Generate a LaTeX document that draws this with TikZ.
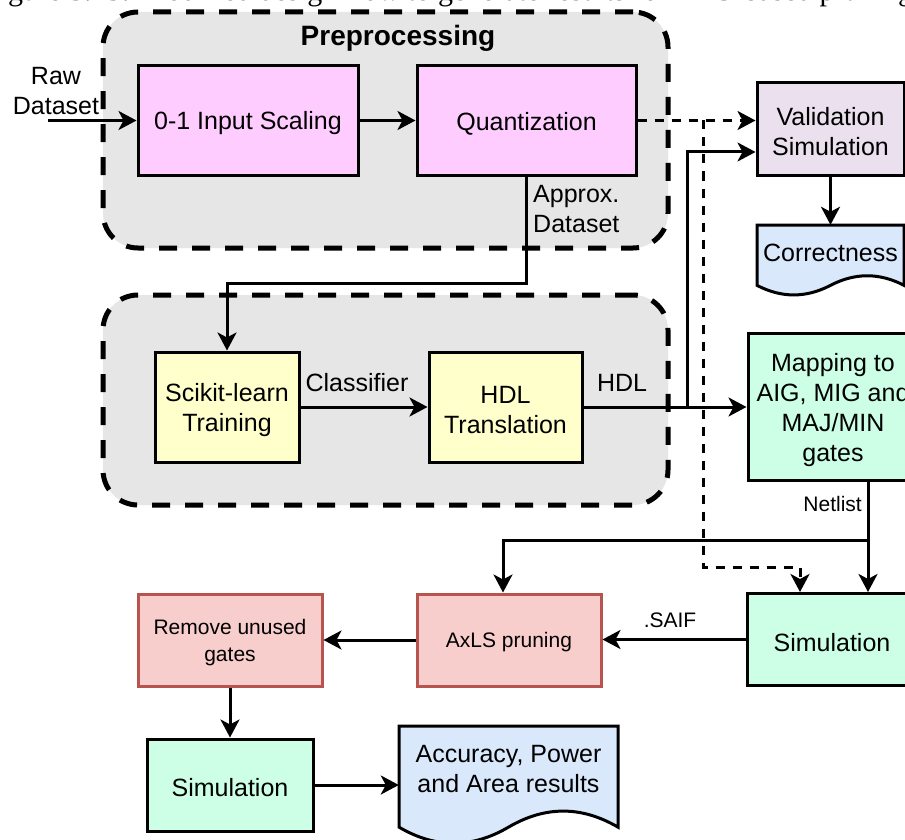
\documentclass[tikz,border=0pt]{standalone}
\usepackage{fontspec}
\setmainfont{Liberation Sans}
\newfontfamily\capfont{Liberation Serif}
\usetikzlibrary{arrows.meta,calc}

\definecolor{pinkfill}{HTML}{FFCCFF}
\definecolor{yelfill}{HTML}{FFFFCC}
\definecolor{mintfill}{HTML}{CCFFE6}
\definecolor{lilacfill}{HTML}{EBE0EE}
\definecolor{bluefill}{HTML}{DAE8FC}
\definecolor{redfill}{HTML}{F8CECC}
\definecolor{redline}{HTML}{B85450}
\definecolor{grpfill}{HTML}{E6E6E6}

% document shape (flat top, wavy bottom): style, x0, y0, width, height
\newcommand\DocShape[5]{%
  \path[#1] (#2,#3) -- ({#2+#4},#3) -- ({#2+#4},{#3+0.85*#5})
    .. controls ({#2+0.8333*#4},{#3+0.67*#5}) and ({#2+0.6667*#4},{#3+0.67*#5}) .. ({#2+0.5*#4},{#3+0.85*#5})
    .. controls ({#2+0.3333*#4},{#3+1.03*#5}) and ({#2+0.1667*#4},{#3+1.03*#5}) .. (#2,{#3+0.85*#5}) -- cycle;}

\tikzset{
  txt/.style={font=\fontsize{25}{30}\selectfont},
  smalltxt/.style={font=\fontsize{21}{27}\selectfont},
  lbl/.style={inner sep=0pt, align=center, txt},
  slbl/.style={inner sep=0pt, align=center, smalltxt},
  % box text sits a little below the geometric centre
  boxtext/.style={label={[lbl, yshift=-3pt]center:#1}},
  sboxtext/.style={label={[slbl, yshift=-2.5pt]center:#1}},
  box/.style={draw, line width=3pt, inner sep=0pt},
  redbox/.style={box, draw=redline, fill=redfill},
  docsh/.style={draw, line width=3pt, fill=bluefill},
  grp/.style={draw, line width=5pt, dash pattern=on 18pt off 15pt, fill=grpfill, rounded corners=35pt},
  arr/.style={line width=3pt, -{Stealth[length=18pt,width=19pt,inset=5pt]}},
  dashconn/.style={dash pattern=on 9pt off 8pt}
}

\begin{document}
\begin{tikzpicture}[x=1pt,y=-1pt]
\useasboundingbox (0,0) rectangle (905,840);
\clip (0,0) rectangle (905,840);
\fill[white] (0,0) rectangle (905,840);

% caption line of the page above
\node[anchor=base west, inner sep=0pt, font=\capfont\fontsize{30}{36}\selectfont] (cap) at (-17,1)
  {Figure 3.13: Modified design flow to generate results for MIG-based pruning};

% group backgrounds
\node[grp, minimum width=565pt, minimum height=236pt] (pregrp) at (385.5,130) {};
\node[grp, minimum width=565pt, minimum height=210pt] (traingrp) at (385.5,400) {};
\node[inner sep=0pt, font=\bfseries\fontsize{28}{34}\selectfont] (ptitle) at (398,38) {Preprocessing};

% process boxes
\node[box, fill=pinkfill, minimum width=220pt, minimum height=110pt, boxtext={0-1 Input Scaling}] (scal) at (248,120.5) {};
\node[box, fill=pinkfill, minimum width=219pt, minimum height=109pt, boxtext={Quantization}] (quant) at (526.5,120.5) {};
\node[box, fill=lilacfill, minimum width=147pt, minimum height=92pt, boxtext={Validation\\Simulation}] (valid) at (830.5,129) {};
\node[box, fill=yelfill, minimum width=144pt, minimum height=110pt, boxtext={Scikit-learn\\Training}] (sci) at (227,407) {};
\node[box, fill=yelfill, minimum width=153pt, minimum height=110pt, boxtext={HDL\\Translation}] (hdlt) at (505.5,407) {};
\node[box, fill=mintfill, minimum width=170pt, minimum height=147pt, boxtext={Mapping to\\AIG, MIG and\\MAJ/MIN\\gates}] (mapg) at (833,407) {};
\node[box, fill=mintfill, minimum width=170pt, minimum height=92pt, boxtext={Simulation}] (simr) at (832,639.5) {};
\node[redbox, minimum width=184pt, minimum height=92pt, sboxtext={AxLS pruning}] (axls) at (509,640) {};
\node[redbox, minimum width=184pt, minimum height=92pt, sboxtext={Remove unused\\gates}] (remv) at (230,640) {};
\node[box, fill=mintfill, minimum width=166pt, minimum height=92pt, boxtext={Simulation}] (siml) at (230,785) {};

% documents
\DocShape{docsh}{757}{225}{147}{71}
\node[lbl, minimum width=147pt, minimum height=56pt] (corr) at (830.5,253) {Correctness};
\DocShape{docsh}{399}{726}{219}{119}
\node[lbl, minimum width=219pt, minimum height=84pt] (accd) at (508.5,769) {Accuracy, Power\\and Area results};

% labels
\node[lbl] (rawlbl) at (56,91) {Raw\\Dataset};
\node[lbl, anchor=west, align=left] (approx) at (533,209) {Approx.\\Dataset};
\node[lbl] (clsf) at (357,383) {Classifier};
\node[lbl] (hdllbl) at (622,383) {HDL};
\node[slbl, anchor=east] (netl) at (862,504) {Netlist};
\node[slbl] (saif) at (670,620) {.SAIF};

% junctions and bends
\coordinate (rawin) at (48,120.5);
\coordinate (dsplit) at (703,120.5);
\coordinate (dturn) at (703,567);
\coordinate (simrdin) at (800,567);
\coordinate (qturn) at (227,283);
\coordinate (hsplit) at (687,407);
\coordinate (nsplit) at (868,540);
\coordinate (axin) at (503,540);

% connectors
\draw[arr] (rawin) -- (scal.west);
\draw[arr] (scal.east) -- (quant.west);
\draw[arr, dashconn] (quant.east) -- (valid.west |- quant.east);
\draw[arr, dashconn] (dsplit) -- (dturn) -- (simrdin) -- (simrdin |- simr.north);
\draw[arr] (quant.south) |- (qturn) -- (sci.north);
\draw[arr] (sci.east) -- (hdlt.west);
\draw[arr] (hdlt.east) -- (mapg.west);
\draw[arr] (hsplit) |- ($(valid.west)+(0,23)$);
\draw[arr] (valid.south) -- (corr.north);
\draw[arr] (nsplit |- mapg.south) -- (nsplit |- simr.north);
\draw[arr] (nsplit) -- (axin) -- (axin |- axls.north);
\draw[arr] (simr.west) -- (simr.west -| axls.east);
\draw[arr] (axls.west) -- (remv.east);
\draw[arr] (remv.south) -- (siml.north);
\draw[arr] (siml.east) -- (siml.east -| accd.west);
\end{tikzpicture}
\end{document}
